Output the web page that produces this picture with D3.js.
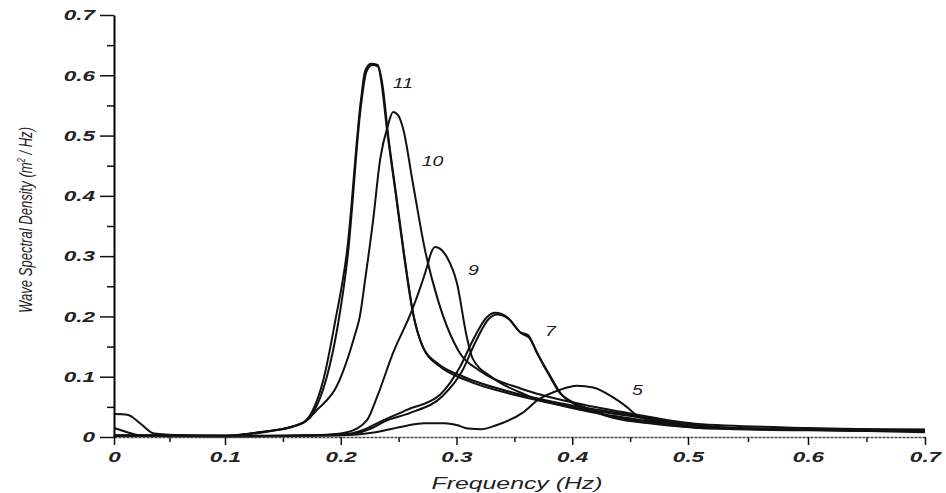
<!DOCTYPE html>
<html>
<head>
<meta charset="utf-8">
<script src="https://cdn.jsdelivr.net/npm/d3@7/dist/d3.min.js"></script>
<style>
  body { margin: 0; background: #fff; }
  svg { display: block; }
</style>
</head>
<body>
<svg id="chart" width="946" height="493"></svg>
<script>

// [frequency (Hz), spectral density (m^2/Hz)]
var spec11a = [[0,0.003],[0.04,0.003],[0.1,0.002],[0.13,0.008],[0.156,0.016],[0.169,0.026],[0.176,0.045],
    [0.185,0.095],[0.195,0.19],[0.2055,0.31],[0.2175,0.56],[0.221,0.607],[0.226,0.619],[0.232,0.617],
    [0.235,0.59],[0.24,0.509],[0.247,0.41],[0.254,0.31],[0.262,0.21],[0.271,0.149],[0.283,0.123],
    [0.306,0.1],[0.346,0.075],[0.406,0.05],[0.456,0.035],[0.506,0.02],[0.56,0.013],[0.7,0.01]];

var spec11b = [[0,0.002],[0.1,0.002],[0.14,0.01],[0.16,0.018],[0.172,0.03],[0.18,0.055],[0.188,0.1],
    [0.197,0.18],[0.206,0.3],[0.2175,0.55],[0.222,0.605],[0.227,0.617],[0.232,0.615],[0.236,0.585],
    [0.241,0.5],[0.248,0.4],[0.255,0.3],[0.263,0.2],[0.272,0.145],[0.285,0.118],[0.31,0.093],
    [0.35,0.07],[0.41,0.046],[0.46,0.032],[0.51,0.018],[0.6,0.012],[0.7,0.008]];

var spec10 = [[0,0.002],[0.1,0.002],[0.13,0.008],[0.155,0.016],[0.169,0.025],[0.1795,0.045],
    [0.1967,0.085],[0.212,0.168],[0.2165,0.2],[0.221,0.26],[0.228,0.36],[0.234,0.46],[0.2408,0.517],
    [0.2452,0.539],[0.2495,0.534],[0.2538,0.512],[0.2624,0.42],[0.2728,0.31],[0.284,0.227],
    [0.303,0.139],[0.32,0.11],[0.356,0.08],[0.406,0.055],[0.456,0.037],[0.506,0.022],[0.6,0.015],[0.7,0.012]];

var spec9 = [[0,0.002],[0.1,0.001],[0.18,0.003],[0.2055,0.008],[0.2227,0.028],[0.2313,0.066],
    [0.2451,0.139],[0.2615,0.21],[0.2745,0.282],[0.278,0.305],[0.2815,0.315],[0.286,0.312],
    [0.2918,0.298],[0.3004,0.255],[0.309,0.165],[0.314,0.13],[0.33,0.1],[0.36,0.07],[0.41,0.044],
    [0.46,0.028],[0.52,0.016],[0.6,0.012],[0.7,0.01]];

var spec7a = [[0,0.015],[0.012,0.008],[0.022,0.003],[0.06,0.002],[0.1,0.001],[0.2,0.004],[0.22,0.012],
    [0.2339,0.025],[0.2572,0.045],[0.2857,0.07],[0.303,0.116],[0.3143,0.161],[0.3264,0.199],
    [0.3333,0.206],[0.3436,0.199],[0.3549,0.174],[0.3618,0.169],[0.3696,0.139],[0.3808,0.1],
    [0.3894,0.073],[0.41,0.05],[0.43,0.035],[0.46,0.026],[0.506,0.016],[0.6,0.012],[0.7,0.012]];

var spec7b = [[0,0.002],[0.1,0.001],[0.2,0.003],[0.225,0.013],[0.238,0.026],[0.26,0.04],[0.288,0.068],
    [0.305,0.11],[0.3165,0.158],[0.328,0.196],[0.335,0.203],[0.345,0.196],[0.356,0.172],[0.363,0.164],
    [0.371,0.135],[0.382,0.098],[0.391,0.07],[0.412,0.047],[0.435,0.032],[0.47,0.022],[0.52,0.014],
    [0.6,0.011],[0.7,0.01]];

var spec5 = [[0,0.038],[0.012,0.037],[0.024,0.022],[0.036,0.006],[0.06,0.003],[0.1,0.002],[0.2,0.003],
    [0.23,0.008],[0.255,0.018],[0.272,0.023],[0.29,0.023],[0.3,0.02],[0.31,0.014],[0.322,0.013],
    [0.335,0.02],[0.357,0.04],[0.37,0.061],[0.389,0.078],[0.404,0.085],[0.418,0.082],[0.435,0.066],
    [0.447,0.05],[0.458,0.033],[0.48,0.024],[0.51,0.015],[0.6,0.013],[0.7,0.012]];

var curveLabels  = ['11', '10', '9', '7', '5'];
var labelAnchors = [[0.245,0.587],[0.270,0.459],[0.310,0.277],[0.3765,0.177],[0.4516,0.078]];

var xTickValues  = [0, 0.1, 0.2, 0.3, 0.4, 0.5, 0.6, 0.7];
var xMinorValues = [0.05, 0.15, 0.25, 0.35, 0.45, 0.55, 0.65];
var yTickValues  = [0, 0.1, 0.2, 0.3, 0.4, 0.5, 0.6, 0.7];
var yMinorValues = [0.05, 0.15, 0.25, 0.35, 0.45, 0.55, 0.65];

var allSeries = [spec11a, spec11b, spec10, spec9, spec7a, spec7b, spec5];

var svg = d3.select('#chart');

// the scanned axis is slightly uneven, so x is a piecewise scale
var x = d3.scaleLinear()
    .domain([0, 0.1, 0.5, 0.6, 0.7])
    .range([114, 225, 688, 808, 925]);
var y = d3.scaleLinear()
    .domain([0, 0.7])
    .range([437, 15]);

var tickFmt = function(d) { return d === 0 ? '0' : d.toFixed(1); };
var tickFont = 'bold italic 15px "Liberation Sans", Arial, sans-serif';

// curves
var line = d3.line()
    .x(function(d) { return x(d[0]); })
    .y(function(d) { return y(d[1]); })
    .curve(d3.curveMonotoneX);

svg.append('g')
    .selectAll('path')
    .data(allSeries)
    .enter()
        .append('path')
        .attr('d', line)
        .attr('fill', 'none')
        .attr('stroke', '#111')
        .attr('stroke-width', 2)
        .attr('stroke-linejoin', 'round');

// x axis
var xMinor = svg.append('g')
    .attr('transform', 'translate(0,' + y(0) + ')')
    .call(d3.axisBottom(x).tickValues(xMinorValues).tickSize(5).tickFormat(''));
xMinor.select('.domain').remove();

var xAxis = svg.append('g')
    .attr('transform', 'translate(0,' + y(0) + ')')
    .call(d3.axisBottom(x).tickValues(xTickValues).tickSize(8).tickSizeOuter(0).tickFormat(tickFmt));
xAxis.select('.domain')
    .attr('stroke', '#444')
    .attr('stroke-width', 1.5)
    .attr('stroke-dasharray', '3,1');
xAxis.selectAll('text')
    .attr('y', 14)
    .attr('dy', '0.71em')
    .attr('transform', 'scale(1.5,1)')
    .attr('fill', '#222')
    .style('font', tickFont);

// y axis
var yMinor = svg.append('g')
    .attr('transform', 'translate(' + x(0) + ',0)')
    .call(d3.axisLeft(y).tickValues(yMinorValues).tickSize(7).tickFormat(''));
yMinor.select('.domain').remove();

var yAxis = svg.append('g')
    .attr('transform', 'translate(' + x(0) + ',0)')
    .call(d3.axisLeft(y).tickValues(yTickValues).tickSize(14).tickSizeOuter(0).tickFormat(tickFmt));
yAxis.select('.domain').attr('stroke-width', 2);
yAxis.selectAll('text')
    .attr('x', -19 / 1.5)
    .attr('transform', 'scale(1.5,1)')
    .attr('fill', '#222')
    .style('font', tickFont);

svg.selectAll('.tick line').attr('stroke', '#111').attr('stroke-width', 1.5);

// curve numbers
svg.append('g')
    .selectAll('text')
    .data(curveLabels)
    .enter()
        .append('text')
        .attr('transform', function(d, i) {
            return 'translate(' + x(labelAnchors[i][0]) + ',' + y(labelAnchors[i][1]) + ') scale(1.3,1)';
        })
        .attr('dy', '0.35em')
        .style('font', 'italic 15px "Liberation Sans", Arial, sans-serif')
        .attr('fill', '#222')
        .text(function(d) { return d; });

// axis titles
svg.append('text')
    .attr('x', 517)
    .attr('y', 489)
    .attr('text-anchor', 'middle')
    .attr('textLength', 171)
    .attr('lengthAdjust', 'spacingAndGlyphs')
    .style('font', 'italic 17px "Liberation Sans", Arial, sans-serif')
    .attr('fill', '#222')
    .text('Frequency (Hz)');

var yTitle = svg.append('text')
    .attr('transform', 'translate(32,220) rotate(-90)')
    .attr('text-anchor', 'middle')
    .attr('textLength', 186)
    .attr('lengthAdjust', 'spacingAndGlyphs')
    .style('font', 'italic 19px "Liberation Sans Narrow", "Liberation Sans", Arial, sans-serif')
    .attr('fill', '#222');
yTitle.append('tspan').text('Wave Spectral Density (m');
yTitle.append('tspan').attr('dy', -7).style('font-size', '11px').text('2');
yTitle.append('tspan').attr('dy', 7).text(' / Hz)');

</script>
</body>
</html>
